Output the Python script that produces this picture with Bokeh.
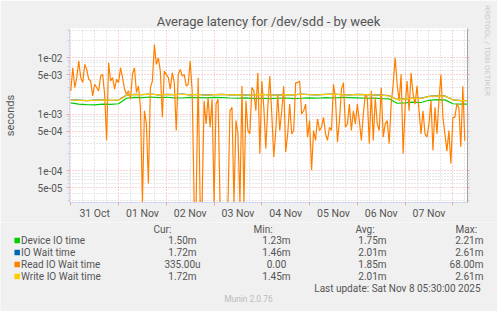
import math
import numpy as np
import pandas as pd
from bokeh.plotting import figure
from bokeh.layouts import column, row
from bokeh.models import (FixedTicker, CustomJSTickFormatter, DatetimeTickFormatter,
                          LogAxis, Range1d, Label)
from bokeh.core.properties import value
from bokeh.embed import file_html
from bokeh.resources import INLINE

# ---------------- data (milliseconds) ----------------
# Read IO Wait time, hourly from 2025-10-31 00:00
read_ms = [
    2.57, 6.59, 2.94, 4.40, 8.62, 4.40, 3.59, 7.54, 6.15, 4.11,
    3.84, 2.10, 3.36, 2.94, 2.57, 4.70, 5.03, 2.24, 0.341, 8.06,
    3.84, 4.40, 2.75, 4.11, 3.59, 6.59, 4.40, 2.75, 2.24, 2.57,
    1.83, 5.03, 6.59, 2.40, 3.14, 1.31, 0.0, 1.14, 0.668, 0.059,
    2.94, 3.84, 16.9, 7.54, 9.87, 5.75, 0.874, 5.75, 5.03, 4.40,
    2.75, 5.38, 3.59, 0.510, 5.03, 6.15, 4.70, 5.03, 3.14, 3.36,
    8.62, 2.57, 0.0, 0.0, 4.40, 0.0, 0.0, 1.71, 0.668, 1.96,
    0.584, 1.83, 0.0, 1.50, 1.83, 0.0, 0.0, 0.0, 0.0, 0.0,
    1.14, 1.31, 0.0, 0.764, 0.446, 0.0, 3.14, 0.0, 1.71, 0.510,
    0.446, 2.94, 2.57, 1.14, 5.38, 0.199, 3.84, 1.31, 0.243, 1.31,
    4.70, 1.00, 0.174, 0.510, 2.24, 0.510, 1.14, 3.14, 0.212, 0.446,
    1.50, 0.446, 0.510, 3.59, 3.59, 3.84, 1.00, 1.14, 1.50, 0.390,
    0.764, 0.101, 0.510, 0.341, 0.817, 0.510, 0.584, 0.874, 0.446, 0.341,
    0.584, 0.510, 3.36, 1.96, 0.318, 0.764, 2.75, 3.59, 0.584, 0.668,
    1.50, 0.510, 1.14, 0.668, 1.50, 0.764, 0.341, 1.00, 2.24, 1.96,
    0.298, 2.57, 0.341, 1.96, 0.668, 0.510, 2.94, 0.390, 0.668, 0.764,
    0.298, 1.50, 3.36, 9.87, 3.36, 1.71, 5.03, 0.199, 1.31, 3.84,
    1.14, 5.38, 2.24, 1.50, 3.14, 1.14, 0.446, 1.14, 0.446, 0.390,
    0.668, 1.71, 0.227, 1.31, 0.446, 1.71, 5.00, 0.874, 0.446, 0.220,
    0.510, 0.133, 0.874, 0.874, 1.50, 1.31, 0.260, 3.10, 0.335,
]
# 4-hourly series from 2025-10-31 00:00
device_ms = [
    1.58, 1.50, 1.47, 1.45, 1.50, 1.48, 1.52,
    1.90, 1.97, 1.95, 2.00, 1.95, 1.98, 1.93,
    1.92, 1.97, 1.95, 1.93, 1.97, 1.95, 1.92,
    1.90, 1.93, 1.88, 1.90, 1.87, 1.90, 1.92,
    1.88, 1.90, 1.93, 1.90, 1.95, 1.92, 1.97,
    1.95, 1.93, 1.90, 1.92, 1.88, 1.85, 1.55,
    1.58, 1.62, 1.60, 1.75, 1.80, 1.78, 1.52,
    1.50, 1.50,
]
iowait_ms = [
    1.79, 1.76, 1.73, 1.76, 1.79, 1.75, 1.77,
    2.16, 2.23, 2.21, 2.26, 2.19, 2.23, 2.21,
    2.25, 2.19, 2.23, 2.16, 2.21, 2.23, 2.19,
    2.21, 2.16, 2.19, 2.23, 2.19, 2.16, 2.21,
    2.19, 2.25, 2.21, 2.19, 2.23, 2.26, 2.21,
    2.19, 2.23, 2.21, 2.19, 2.16, 2.11, 1.81,
    1.86, 1.91, 1.89, 2.06, 2.11, 2.09, 1.79,
    1.72, 1.72,
]
write_ms = [
    1.78, 1.75, 1.72, 1.75, 1.78, 1.74, 1.76,
    2.15, 2.22, 2.20, 2.25, 2.18, 2.22, 2.20,
    2.24, 2.18, 2.22, 2.15, 2.20, 2.22, 2.18,
    2.20, 2.15, 2.18, 2.22, 2.18, 2.15, 2.20,
    2.18, 2.24, 2.20, 2.18, 2.22, 2.25, 2.20,
    2.18, 2.22, 2.20, 2.18, 2.15, 2.10, 1.80,
    1.85, 1.90, 1.88, 2.05, 2.10, 2.08, 1.78,
    1.72, 1.72,
]

series_names = ["Device IO time", "IO Wait time", "Read IO Wait time", "Write IO Wait time"]
series_colors = ["#00CC00", "#0066B3", "#FF8000", "#FFCC00"]
stat_headers = ["Cur:", "Min:", "Avg:", "Max:"]
stat_cur = ["1.50m", "1.72m", "335.00u", "1.72m"]
stat_min = ["1.23m", "1.46m", "0.00", "1.45m"]
stat_avg = ["1.75m", "2.01m", "1.85m", "2.01m"]
stat_max = ["2.21m", "2.61m", "68.00m", "2.61m"]
y_major = [5e-5, 1e-4, 5e-4, 1e-3, 5e-3, 1e-2]

title_text = "Average latency for /dev/sdd - by week"
last_update = "Last update: Sat Nov  8 05:30:00 2025"
footer = "Munin 2.0.76"
side_text = "RRDTOOL / TOBI OETIKER"

# ---------------- derived ----------------
read_t = pd.date_range("2025-10-31 00:00", periods=len(read_ms), freq="1h")
slow_t = pd.date_range("2025-10-31 00:00", periods=len(device_ms), freq="4h")

Y_MIN, Y_MAX = 2.72e-5, 3.26e-2
x_start = pd.Timestamp("2025-10-30 23:21")
x_end = x_start + pd.Timedelta(hours=200)


def ms(idx):
    return [float(v) for v in (idx.asi8 // 10**6)]


read_s = np.array(read_ms) / 1000.0
read_plot = np.where(read_s > 0, read_s, Y_MIN)

FONT = "Roboto"
TXT = "#555555"
BG = "#F0F0F0"
AXIS_C = "#CFD6F8"
MGRID = "#F4A6A6"
GRID = "#CFCFCF"

# frame geometry (canvas pixels)
W, H = 497, 311
FL, FR, FT, FB = 67, 467, 28, 203
MAIN_H = 222

# ---------------- main plot ----------------
p = figure(width=W, height=MAIN_H, x_axis_type="datetime", y_axis_type="log",
           x_range=Range1d(x_start.value // 10**6, x_end.value // 10**6),
           y_range=Range1d(Y_MIN, Y_MAX),
           output_backend="svg", toolbar_location=None,
           min_border_left=FL, min_border_right=W - FR, min_border_top=FT,
           min_border_bottom=MAIN_H - FB,
           background_fill_color="white", border_fill_color=BG,
           outline_line_color=None)

p.title.text = title_text
p.title.align = "center"
p.title.text_font = FONT
p.title.text_font_size = "13px"
p.title.text_font_style = "normal"
p.title.text_color = TXT
p.title.standoff = 0
p.title.offset = 0

midnights = pd.date_range("2025-10-31", "2025-11-08", freq="D")
noons = midnights + pd.Timedelta(hours=12)
six = pd.date_range("2025-10-30 18:00", "2025-11-08 06:00", freq="6h")
six = six[six.hour != 0]

xa = p.xaxis[0]
xa.ticker = FixedTicker(ticks=ms(noons), minor_ticks=ms(midnights))
fmt = "%d %b"
xa.formatter = DatetimeTickFormatter(milliseconds=fmt, seconds=fmt, minsec=fmt, minutes=fmt,
                                     hourmin=fmt, hours=fmt, days=fmt, months=fmt, years=fmt)
xa.axis_line_color = AXIS_C
xa.major_tick_line_color = None
xa.major_tick_out = 0
xa.major_tick_in = 0
xa.minor_tick_line_color = MGRID
xa.minor_tick_out = 3
xa.minor_tick_in = 0
xa.major_label_standoff = 1
xa.major_label_text_font = FONT
xa.major_label_text_font_size = "10.5px"
xa.major_label_text_color = TXT

minor_y = [m * 10.0 ** e for e in range(-5, -1) for m in (2, 3, 4, 6, 7, 8, 9)]
ya = p.yaxis[0]
ya.ticker = FixedTicker(ticks=y_major, minor_ticks=minor_y)
ya.formatter = CustomJSTickFormatter(code="""
const s = tick.toExponential(0).split('e');
let e = parseInt(s[1]);
const sg = e < 0 ? '-' : '+';
e = Math.abs(e);
return s[0] + 'e' + sg + (e < 10 ? '0' + e : '' + e);
""")
ya.axis_line_color = AXIS_C
ya.major_tick_line_color = MGRID
ya.minor_tick_line_color = GRID
ya.major_tick_out = 3
ya.major_tick_in = 0
ya.minor_tick_out = 2
ya.minor_tick_in = 0
ya.major_label_standoff = 4
ya.major_label_text_font = FONT
ya.major_label_text_font_size = "10px"
ya.major_label_text_color = TXT
ya.axis_label = "seconds"
ya.axis_label_text_font = FONT
ya.axis_label_text_font_size = "11px"
ya.axis_label_text_font_style = "normal"
ya.axis_label_text_color = TXT
ya.axis_label_standoff = 18

ra = LogAxis(ticker=FixedTicker(ticks=y_major, minor_ticks=minor_y),
             formatter=CustomJSTickFormatter(code="return '';"),
             axis_line_color="#A0A0A0", major_tick_line_color=MGRID, minor_tick_line_color=GRID,
             major_tick_out=2, major_tick_in=0, minor_tick_out=2, minor_tick_in=0,
             major_label_text_font_size="1px", major_label_standoff=0)
p.add_layout(ra, "right")

# vertical credit text in the right side panel (side panels are not clipped to the frame)
side_lab = Label(x=18, y=FB - 51, x_units="screen", y_units="screen", text=side_text,
                 angle=-math.pi / 2, text_align="center", text_baseline="middle",
                 text_font=FONT, text_font_size="7.8px", text_color="#C8C8C8")
p.add_layout(side_lab, "right")

p.xgrid.ticker = FixedTicker(ticks=ms(midnights), minor_ticks=ms(six))
p.xgrid.grid_line_color = MGRID
p.xgrid.grid_line_dash = "1 2"
p.xgrid.minor_grid_line_color = GRID
p.xgrid.minor_grid_line_dash = "1 2"
p.ygrid.grid_line_color = MGRID
p.ygrid.grid_line_dash = "1 2"
p.ygrid.minor_grid_line_color = GRID
p.ygrid.minor_grid_line_dash = "1 2"

p.line(slow_t, np.array(device_ms) / 1000.0, line_color=series_colors[0], line_width=1.2)
p.line(slow_t, np.array(iowait_ms) / 1000.0, line_color=series_colors[1], line_width=1.2)
p.line(read_t, read_plot, line_color=series_colors[2], line_width=1.2)
p.line(slow_t, np.array(write_ms) / 1000.0, line_color=series_colors[3], line_width=1.2)

# ---------------- legend panel (canvas-pixel coordinates) ----------------
bot = figure(width=W, height=H - MAIN_H, x_range=Range1d(0, W), y_range=Range1d(H, MAIN_H),
             output_backend="svg", toolbar_location=None, min_border=0,
             x_axis_location=None, y_axis_location=None,
             background_fill_color=BG, border_fill_color=BG, outline_line_color=None)
bot.grid.visible = False


def txt(f, s, x, y, size, color=TXT, align="left"):
    f.text(x=[x], y=[y], text=[s], text_font=value(FONT), text_font_size=value(f"{size}px"),
           text_color=color, text_align=align, text_baseline="alphabetic")


hdr_x = [153, 253, 355, 455]
for hx, h in zip(hdr_x, stat_headers):
    txt(bot, h, hx, 229, 10)
row_base = [239.7, 251.7, 263.7, 275.7]
bot.scatter(x=[16.7] * 4, y=[240, 252, 264, 276], marker="square", size=5.5,
            fill_color=series_colors, line_color=None)
for i in range(4):
    yb = row_base[i]
    txt(bot, series_names[i], 20.5, yb, 10)
    txt(bot, stat_cur[i], 182, yb, 10, align="center")
    txt(bot, stat_min[i], 276, yb, 10, align="center")
    txt(bot, stat_avg[i], 372, yb, 10, align="center")
    txt(bot, stat_max[i], 483, yb, 10, align="right")
txt(bot, last_update, 482.5, 287.7, 10, align="right")
txt(bot, footer, 248, 298, 8.3, color="#BBBBBB", align="center")

layout = column(row(p), bot)
open("out.html", "w").write(file_html(layout, INLINE))
